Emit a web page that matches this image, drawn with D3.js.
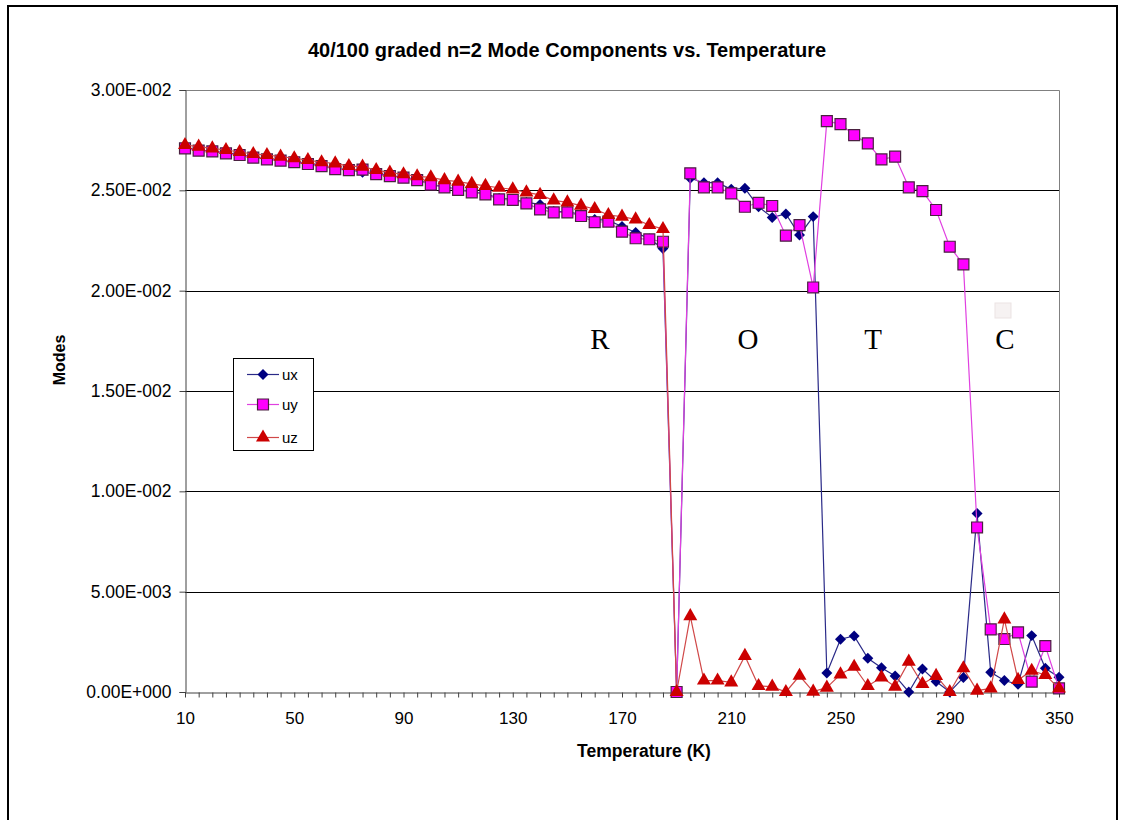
<!DOCTYPE html>
<html><head><meta charset="utf-8">
<script src="https://cdn.jsdelivr.net/npm/d3@7"></script>
<style>body{margin:0;background:#fff}svg{display:block}text{font-family:"Liberation Sans",Arial,sans-serif}</style>
</head><body>
<svg id="chart" width="1124" height="820"></svg>
<script>
const temperatures = [10,15,20,25,30,35,40,45,50,55,60,65,70,75,80,85,90,95,100,105,110,115,120,125,130,135,140,145,150,155,160,165,170,175,180,185,190,195,200,205,210,215,220,225,230,235,240,245,250,255,260,265,270,275,280,285,290,295,300,305,310,320,330,340,350];
const ux = [0.02712,0.02700,0.02695,0.02686,0.02678,0.02665,0.02656,0.02650,0.02641,0.02633,0.02622,0.02608,0.02603,0.02590,0.02583,0.02573,0.02565,0.02553,
 0.02530,0.02517,0.02505,0.02493,0.02483,0.02460,0.02455,0.02440,0.02430,0.02395,0.02393,0.02380,0.02355,0.02350,0.02320,0.02290,0.02258,0.02210,
 0,0.02560,0.02538,0.02538,0.02505,0.02510,0.02418,0.02365,0.02382,0.02277,0.02369,
 0.00095,0.00263,0.00279,0.00168,0.00121,0.00080,0,0.00115,0.00052,0,0.00072,0.00890,0.00098,0.00057,0.00038,0.00281,0.00118,0.00073];
const uy = [0.02709,0.02698,0.02694,0.02684,0.02676,0.02663,0.02654,0.02648,0.02640,0.02631,0.02621,0.02606,0.02601,0.02603,0.02581,0.02571,0.02563,0.02551,
 0.02528,0.02515,0.02502,0.02490,0.02480,0.02455,0.02452,0.02435,0.02405,0.02390,0.02390,0.02372,0.02341,0.02344,0.02294,0.02261,0.02256,0.02244,
 0,0.02585,0.02515,0.02515,0.02485,0.02418,0.02438,0.02422,0.02274,0.02327,0.02016,
 0.02845,0.02830,0.02775,0.02734,0.02654,0.02668,0.02515,0.02496,0.02402,0.02219,0.02131,0.00820,0.00312,0.00264,0.00297,0.00052,0.00229,0.00018];
const uz = [0.02726,0.02718,0.02709,0.02701,0.02691,0.02681,0.02676,0.02668,0.02660,0.02651,0.02640,0.02634,0.02621,0.02618,0.02601,0.02588,0.02580,0.02570,
 0.02565,0.02551,0.02543,0.02532,0.02522,0.02513,0.02505,0.02490,0.02477,0.02450,0.02440,0.02424,0.02407,0.02377,0.02369,0.02355,0.02327,0.02307,
 0,0.00378,0.00057,0.00057,0.00048,0.00180,0.00030,0.00027,0,0.00081,0.00002,
 0.00022,0.00088,0.00126,0.00030,0.00073,0.00027,0.00151,0.00040,0.00080,0,0.00118,0.00007,0.00018,0.00362,0.00060,0.00106,0.00085,0.00018];
const yTicks = [0,0.005,0.010,0.015,0.020,0.025,0.030];
const yTickLabels = ["0.00E+000","5.00E-003","1.00E-002","1.50E-002","2.00E-002","2.50E-002","3.00E-002"];
const seriesNames = ["ux","uy","uz"];
const phaseLabels = ["R","O","T","C"];

const svg = d3.select("#chart");
const L = 185, R = 1059, T = 90, B = 692;
const x = d3.scalePoint().domain(d3.range(temperatures.length)).range([L, R]);
const y = d3.scaleLinear().domain([0, 0.03]).range([B, T]);

// outer frame
svg.append("path").attr("d","M8,822 L8,6 L1117,6 L1117,822").attr("fill","none").attr("stroke","#000").attr("stroke-width",2);

// title
svg.append("text").attr("x",567).attr("y",57).attr("text-anchor","middle")
  .style("font-weight","bold").style("font-size","20px").text("40/100 graded n=2 Mode Components vs. Temperature");

// gridlines
svg.append("g").selectAll("line").data(yTicks.filter(v => v > 0 && v < 0.03)).join("line")
  .attr("x1",L).attr("x2",R).attr("y1",d=>Math.round(y(d))+0.5).attr("y2",d=>Math.round(y(d))+0.5)
  .attr("stroke","#000").attr("stroke-width",1);
svg.append("path").attr("d",`M${L},${T+0.5} L${R+0.5},${T+0.5} L${R+0.5},${B}`).attr("fill","none").attr("stroke","#808080");

// axes
const yAxis = svg.append("g").attr("transform",`translate(${L+0.5},0)`)
  .call(d3.axisLeft(y).tickValues(yTicks).tickSize(6).tickPadding(8).tickFormat((d,i)=>yTickLabels[i]));
yAxis.select(".domain").attr("stroke","#404040");
yAxis.selectAll(".tick line").attr("stroke","#404040");
yAxis.selectAll("text").style("font-size","17.5px").attr("fill","#000");

const xAxis = svg.append("g").attr("transform",`translate(0,${B+0.5})`)
  .call(d3.axisBottom(x).tickSize(5).tickSizeOuter(0).tickPadding(14).tickFormat(i => (i % 8 === 0) ? temperatures[i] : ""));
xAxis.select(".domain").attr("stroke","#404040");
xAxis.selectAll(".tick line").attr("stroke","#404040");
xAxis.selectAll("text").style("font-size","17px").attr("fill","#000");

// axis titles
svg.append("text").attr("x",644).attr("y",757).attr("text-anchor","middle")
  .style("font-weight","bold").style("font-size","17.5px").text("Temperature (K)");
svg.append("text").attr("transform","translate(65,360) rotate(-90)").attr("text-anchor","middle")
  .style("font-weight","bold").style("font-size","16px").text("Modes");

// series
const diamond = {draw(ctx, size){ const r = Math.sqrt(size/2); ctx.moveTo(0,-r); ctx.lineTo(r,0); ctx.lineTo(0,r); ctx.lineTo(-r,0); ctx.closePath(); }};
const styles = [
  {name:"ux", data:ux, line:"#2a2a88", shape:diamond, size:60, fill:"#000080", stroke:"none"},
  {name:"uy", data:uy, line:"#e040e0", shape:d3.symbolSquare, size:120, fill:"#ff00ff", stroke:"#4a2040"},
  {name:"uz", data:uz, line:"#d04848", shape:d3.symbolTriangle, size:85, fill:"#cc0000", stroke:"none"}
];
const lineGen = d3.line().x((d,i)=>x(i)).y(d=>y(d));
styles.forEach(s => {
  const g = svg.append("g");
  g.append("path").datum(s.data).attr("d",lineGen).attr("fill","none").attr("stroke",s.line).attr("stroke-width",1.2);
  g.selectAll("path.m").data(s.data).join("path").attr("class","m")
    .attr("transform",(d,i)=>`translate(${x(i)},${y(d)})`)
    .attr("d",d3.symbol().type(s.shape).size(s.size)())
    .attr("fill",s.fill).attr("stroke",s.stroke).attr("stroke-width",1.2);
});

// phase labels
const phaseX = [600, 748, 873, 1005];
svg.append("g").selectAll("text").data(phaseLabels).join("text")
  .attr("x",(d,i)=>phaseX[i]).attr("y",349).attr("text-anchor","middle")
  .style("font-family","'Liberation Serif','Times New Roman',serif").style("font-size","29px").text(d=>d);
svg.append("rect").attr("x",995).attr("y",303).attr("width",16).attr("height",15).attr("fill","#f6f2f2").attr("stroke","#ebe3e3");

// legend
const lg = svg.append("g");
lg.append("rect").attr("x",233.5).attr("y",358.5).attr("width",80).attr("height",92).attr("fill","#fff").attr("stroke","#000");
const legY = [374.5, 404.5, 437.5];
styles.forEach((s,i) => {
  lg.append("line").attr("x1",247).attr("x2",279).attr("y1",legY[i]).attr("y2",legY[i]).attr("stroke",s.line).attr("stroke-width",1.2);
  lg.append("path").attr("transform",`translate(263,${legY[i]})`).attr("d",d3.symbol().type(s.shape).size(s.size)())
    .attr("fill",s.fill).attr("stroke",s.stroke).attr("stroke-width",1.2);
  lg.append("text").attr("x",282).attr("y",legY[i]+5).style("font-size","15px").text(seriesNames[i]);
});
</script>
</body></html>
